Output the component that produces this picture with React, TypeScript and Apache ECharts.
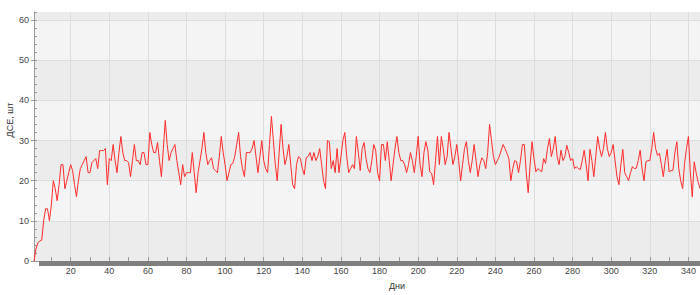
import React, { useEffect, useRef } from "react";
import * as echarts from "echarts";

// Daily values (ДСЕ, шт), days 1..346
const values: number[] = [
  0, 3, 4.5, 5, 5.2, 10, 13, 13, 10, 14,
  20, 18, 15, 19, 24, 24, 18, 20, 22, 24,
  22.5, 19, 16, 20, 23, 24, 25, 26, 22, 22,
  24.5, 25, 25.5, 23, 27.5, 27.5, 27.5, 28, 19, 25.5,
  25, 29, 25, 22, 27, 31, 27, 25, 25, 24.5,
  21, 25, 29, 25, 25, 24, 27, 27, 24, 24,
  32, 29, 27, 27, 29.5, 25, 21, 28, 35, 29,
  25, 27, 28, 29, 25, 22, 19, 24, 21, 22,
  22, 22, 27, 22, 17, 22, 25, 28, 32, 27,
  24, 25, 25.7, 23, 22.5, 22, 26, 31, 27, 24,
  20, 22, 24, 24.3, 26, 29, 32, 26, 23, 21,
  27, 27, 27, 28, 30, 26, 22, 26, 30, 25,
  23, 22, 29, 36, 30, 24, 20, 27, 34, 28,
  24, 26, 29, 24, 19, 18, 24, 26, 25.5, 23,
  21.5, 25.7, 26, 27, 25, 27, 25, 26, 28, 24,
  20, 18, 30, 29.7, 23, 25, 22, 28, 22, 26,
  30, 32, 26, 22, 23, 24, 23, 31, 27, 22.5,
  28, 29.5, 25.5, 23, 22, 25, 29, 27.6, 22, 20,
  29, 29, 25, 29.7, 25, 20, 24, 28, 31, 27,
  25, 25, 24, 22, 24, 27, 25, 22, 26, 31,
  24, 21, 27, 29.7, 27.6, 22.2, 21.8, 19, 25, 31,
  24, 31, 28, 24, 26, 32, 28, 24, 26, 29,
  25, 20, 24, 28, 29.7, 25, 22, 25, 29, 25,
  21, 24, 25.7, 25, 23, 27, 34, 30, 26, 24,
  25, 26, 27.5, 29, 28, 26.8, 25.5, 20, 23, 25,
  24.7, 22, 25, 29, 29, 22, 17, 24, 29.7, 25.5,
  22.2, 23, 22.6, 22.2, 25.5, 24.3, 28, 30.5, 26, 28,
  31, 26, 24, 27.6, 25, 26, 28.8, 27, 25, 25.5,
  23, 23.5, 23, 22.8, 25, 27.6, 24, 20, 27.8, 25,
  21, 26, 31, 28, 26, 28, 32, 28, 26, 27,
  29, 25, 21, 19, 24, 27.8, 22, 21, 20, 22,
  23.5, 23, 23.1, 25, 27.6, 23, 20, 24.7, 25, 25,
  28, 32, 28, 26.3, 26.8, 24, 21, 25, 27.8, 22.2,
  22.5, 22.6, 27, 29.7, 23, 20, 18, 24.3, 28, 31,
  22, 16, 24.7, 22, 19.8, 18,
];
const firstDay = 1;
const days: number[] = values.map((_, i) => firstDay + i);
const lastDay = days[days.length - 1];

const yMin = 0;
const yMax = 62;
const yLabelStep = 10;
const yMinorStep = 2;
const xLabelStep = 20;
const xMinorStep = 10;

const yTitle = "ДСЕ, шт";
const xTitle = "Дни";

export default function App() {
  const ref = useRef<HTMLDivElement>(null);
  useEffect(() => {
    if (!ref.current) return;
    const chart = echarts.init(ref.current, null, { renderer: "svg" });
    const font = "'Liberation Sans', Arial, sans-serif";
    const labelColor = "#444";
    const axisColor = "#9a9a9a";
    const gridColor = "#dddddd";
    chart.setOption({
      animation: false,
      backgroundColor: "#ffffff",
      grid: {
        left: 34,
        right: 0,
        top: 12,
        bottom: 34,
        containLabel: false,
        outerBoundsMode: "none",
      },
      xAxis: [
        {
          type: "value",
          min: firstDay,
          max: lastDay,
          minInterval: xLabelStep,
          maxInterval: xLabelStep,
          axisLine: { show: true, lineStyle: { color: axisColor } },
          axisTick: { show: false },
          axisLabel: {
            showMinLabel: false,
            showMaxLabel: false,
            margin: 5,
            fontSize: 9,
            color: labelColor,
            fontFamily: font,
          },
          splitLine: {
            show: true,
            showMinLine: false,
            showMaxLine: false,
            lineStyle: { color: gridColor, width: 1 },
          },
        },
        {
          type: "value",
          position: "bottom",
          min: firstDay,
          max: lastDay,
          minInterval: xMinorStep,
          maxInterval: xMinorStep,
          axisLine: { show: false },
          axisTick: { show: true, inside: true, length: 4, lineStyle: { color: "#999" } },
          axisLabel: { show: false },
          splitLine: { show: false },
        },
      ],
      yAxis: [
        {
          type: "value",
          position: "left",
          min: yMin,
          max: yMax,
          interval: yLabelStep,
          axisLine: { show: true, lineStyle: { color: axisColor } },
          axisTick: { show: true, inside: false, length: 3, lineStyle: { color: "#999" } },
          axisLabel: {
            showMaxLabel: false,
            margin: 5,
            fontSize: 9,
            color: labelColor,
            fontFamily: font,
          },
          splitLine: {
            show: true,
            showMinLine: false,
            showMaxLine: false,
            lineStyle: { color: gridColor, width: 1 },
          },
          splitArea: { show: true, areaStyle: { color: ["#ececec", "#f4f4f4"] } },
        },
        {
          type: "value",
          position: "left",
          min: yMin,
          max: yMax,
          interval: yMinorStep,
          axisLine: { show: false },
          axisTick: { show: true, inside: true, length: 3, lineStyle: { color: "#999" } },
          axisLabel: { show: false },
          splitLine: { show: false },
        },
      ],
      series: [
        {
          type: "line",
          xAxisIndex: 0,
          yAxisIndex: 0,
          data: days.map((d, i) => [d, values[i]]),
          showSymbol: false,
          symbol: "none",
          lineStyle: { color: "#ff2a2a", width: 1 },
          z: 5,
        },
      ],
      graphic: [
        {
          type: "rect",
          z: 10,
          shape: { x: 39, y: 261, width: 661, height: 5 },
          style: { fill: "#7f7f7f" },
        },
        {
          type: "text",
          x: 10,
          y: 120,
          rotation: Math.PI / 2,
          style: {
            text: yTitle,
            fontSize: 9,
            fontFamily: font,
            fill: "#333",
            align: "center",
            verticalAlign: "middle",
          },
        },
        {
          type: "text",
          x: 397,
          y: 286,
          style: {
            text: xTitle,
            fontSize: 9,
            fontFamily: font,
            fill: "#333",
            align: "center",
            verticalAlign: "middle",
          },
        },
      ],
    });
    return () => chart.dispose();
  }, []);
  return (
    <div
      ref={ref}
      style={{ position: "fixed", left: 0, top: 0, width: 700, height: 295, background: "#fff" }}
    />
  );
}
